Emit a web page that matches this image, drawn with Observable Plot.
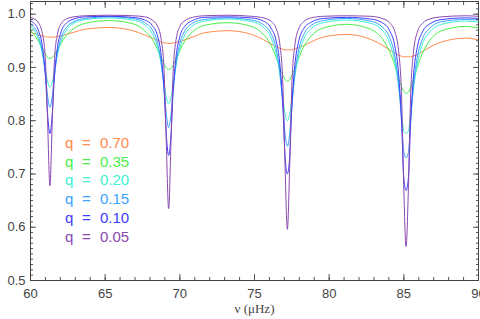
<!DOCTYPE html>
<html><head><meta charset="utf-8">
<script src="https://cdn.jsdelivr.net/npm/d3@7"></script>
<script src="https://cdn.jsdelivr.net/npm/@observablehq/plot@0.6"></script>
<style>
body{margin:0;background:#fff;}
#wrap{position:relative;width:480px;height:319px;}
#legend{position:absolute;left:65px;top:134px;font-family:"Liberation Sans",Arial,sans-serif;font-size:15px;line-height:18.7px;white-space:nowrap;}
#legend .q{display:inline-block;width:17px;}
#legend .eq{display:inline-block;width:18px;}
</style></head><body><div id="wrap"><div id="legend"></div></div>
<script>
// frequency grid (μHz)
const nu = [60.0, 60.2, 60.55, 60.8, 61.0, 61.14, 61.3, 61.46, 61.6, 61.8, 62.05, 62.4, 62.9, 63.7, 65.275,
  66.85, 67.65, 68.15, 68.5, 68.75, 68.95, 69.09, 69.25, 69.41, 69.55, 69.75, 70.0, 70.35, 70.85, 71.65, 73.225,
  74.8, 75.6, 76.1, 76.45, 76.7, 76.9, 77.04, 77.2, 77.36, 77.5, 77.7, 77.95, 78.3, 78.8, 79.6, 81.175,
  82.75, 83.55, 84.05, 84.4, 84.65, 84.85, 84.99, 85.15, 85.31, 85.45, 85.65, 85.9, 86.25, 86.75, 87.55, 89.125, 90.0];

const qLabels = ["0.70", "0.35", "0.20", "0.15", "0.10", "0.05"];

const q070 = [0.966, 0.964, 0.961, 0.959, 0.958, 0.957, 0.957, 0.957, 0.957, 0.958, 0.959, 0.962, 0.966, 0.972, 0.975,
  0.969, 0.961, 0.955, 0.951, 0.948, 0.946, 0.946, 0.945, 0.945, 0.946, 0.947, 0.948, 0.952, 0.957, 0.965, 0.969,
  0.962, 0.952, 0.944, 0.939, 0.936, 0.934, 0.933, 0.933, 0.933, 0.933, 0.935, 0.937, 0.941, 0.948, 0.957, 0.962,
  0.953, 0.942, 0.933, 0.927, 0.923, 0.921, 0.920, 0.920, 0.920, 0.920, 0.922, 0.924, 0.930, 0.938, 0.948, 0.955, 0.952];
const q035 = [0.969, 0.963, 0.948, 0.935, 0.925, 0.919, 0.917, 0.919, 0.923, 0.933, 0.945, 0.960, 0.973, 0.983, 0.988,
  0.982, 0.969, 0.953, 0.934, 0.918, 0.906, 0.899, 0.896, 0.898, 0.904, 0.916, 0.932, 0.950, 0.967, 0.979, 0.984,
  0.977, 0.962, 0.942, 0.919, 0.900, 0.885, 0.878, 0.874, 0.877, 0.884, 0.898, 0.917, 0.939, 0.959, 0.974, 0.981,
  0.972, 0.954, 0.930, 0.904, 0.881, 0.864, 0.855, 0.851, 0.854, 0.862, 0.878, 0.900, 0.927, 0.951, 0.969, 0.977, 0.974];
const q020 = [0.978, 0.972, 0.952, 0.925, 0.895, 0.874, 0.863, 0.873, 0.893, 0.923, 0.949, 0.970, 0.983, 0.990, 0.993,
  0.989, 0.980, 0.964, 0.939, 0.906, 0.869, 0.845, 0.832, 0.843, 0.867, 0.904, 0.936, 0.962, 0.978, 0.987, 0.991,
  0.986, 0.975, 0.956, 0.925, 0.886, 0.842, 0.814, 0.800, 0.813, 0.840, 0.883, 0.922, 0.953, 0.973, 0.984, 0.989,
  0.983, 0.970, 0.946, 0.910, 0.864, 0.815, 0.782, 0.776, 0.781, 0.812, 0.861, 0.907, 0.944, 0.967, 0.981, 0.987, 0.985];
const q015 = [0.983, 0.977, 0.958, 0.928, 0.885, 0.848, 0.825, 0.847, 0.883, 0.926, 0.956, 0.975, 0.986, 0.992, 0.995,
  0.992, 0.984, 0.971, 0.947, 0.909, 0.857, 0.814, 0.787, 0.812, 0.855, 0.907, 0.945, 0.969, 0.983, 0.990, 0.993,
  0.989, 0.980, 0.964, 0.935, 0.890, 0.828, 0.778, 0.752, 0.777, 0.826, 0.887, 0.932, 0.962, 0.979, 0.988, 0.992,
  0.987, 0.976, 0.956, 0.921, 0.869, 0.799, 0.743, 0.730, 0.741, 0.796, 0.866, 0.919, 0.954, 0.974, 0.986, 0.990, 0.989];
const q010 = [0.988, 0.984, 0.968, 0.939, 0.884, 0.815, 0.776, 0.814, 0.882, 0.937, 0.967, 0.983, 0.991, 0.995, 0.996,
  0.994, 0.989, 0.979, 0.960, 0.923, 0.856, 0.776, 0.735, 0.774, 0.854, 0.921, 0.958, 0.978, 0.988, 0.994, 0.995,
  0.993, 0.987, 0.974, 0.950, 0.906, 0.827, 0.736, 0.700, 0.734, 0.825, 0.904, 0.948, 0.973, 0.985, 0.992, 0.994,
  0.991, 0.984, 0.969, 0.940, 0.888, 0.797, 0.696, 0.669, 0.694, 0.794, 0.886, 0.938, 0.967, 0.982, 0.990, 0.993, 0.992];
const q005 = [0.994, 0.992, 0.983, 0.963, 0.913, 0.804, 0.678, 0.802, 0.911, 0.962, 0.982, 0.991, 0.995, 0.997, 0.998,
  0.997, 0.995, 0.989, 0.978, 0.953, 0.891, 0.763, 0.635, 0.761, 0.890, 0.952, 0.977, 0.988, 0.994, 0.997, 0.998,
  0.996, 0.993, 0.987, 0.973, 0.943, 0.868, 0.721, 0.596, 0.719, 0.866, 0.941, 0.972, 0.986, 0.993, 0.996, 0.997,
  0.996, 0.992, 0.984, 0.967, 0.931, 0.844, 0.680, 0.564, 0.678, 0.842, 0.930, 0.966, 0.983, 0.991, 0.995, 0.997, 0.996];

const xMajor = [60, 65, 70, 75, 80, 85, 90];
const yMajor = [0.5, 0.6, 0.7, 0.8, 0.9, 1.0];
const xTitle = "ν (μHz)";

// styles
const palette = ["#ff8a4c", "#48f048", "#3cf0d2", "#3aa2ff", "#3c3cff", "#8a48b0"];
const axisColor = "#444";

const seriesValues = [q070, q035, q020, q015, q010, q005];
const rows = [];
qLabels.forEach((q, k) => nu.forEach((x, i) => rows.push({nu: x, v: seriesValues[k][i], q})));

const xMinor = d3.range(60, 91, 1);
const yMinor = d3.range(50, 103, 1).map(d => d / 100);

const tickStyle = {stroke: "#555", fill: "none", label: null};

const chart = Plot.plot({
  width: 480, height: 319,
  marginLeft: 30, marginRight: 2, marginTop: 1, marginBottom: 39,
  style: {fontFamily: "'Liberation Sans', Arial, sans-serif", fontSize: "13px", background: "#fff", color: axisColor},
  x: {domain: [60, 90]},
  y: {domain: [0.5, 1.0238]},
  color: {domain: qLabels, range: palette},
  marks: [
    Plot.line(rows, {x: "nu", y: "v", z: "q", stroke: "q", strokeWidth: 1, curve: "monotone-x"}),
    Plot.axisX({anchor: "bottom", ticks: xMinor, tickSize: -3, ...tickStyle}),
    Plot.axisX({anchor: "bottom", ticks: xMajor, tickSize: -6, ...tickStyle}),
    Plot.axisX({anchor: "top", ticks: xMinor, tickSize: -3, ...tickStyle}),
    Plot.axisX({anchor: "top", ticks: xMajor, tickSize: -6, ...tickStyle}),
    Plot.axisY({anchor: "left", ticks: yMinor, tickSize: -3, ...tickStyle}),
    Plot.axisY({anchor: "left", ticks: yMajor, tickSize: -6, ...tickStyle}),
    Plot.axisY({anchor: "right", ticks: yMinor, tickSize: -3, ...tickStyle}),
    Plot.axisY({anchor: "right", ticks: yMajor, tickSize: -6, ...tickStyle}),
    Plot.axisX({anchor: "bottom", ticks: xMajor, tickSize: 0, tickPadding: 8, fill: axisColor, label: null}),
    Plot.axisY({anchor: "left", ticks: yMajor, tickSize: 0, tickPadding: 5, tickFormat: d3.format(".1f"), fill: axisColor, label: null}),
    Plot.frame({stroke: axisColor}),
    Plot.text([xTitle], {text: d => d, frameAnchor: "bottom", dy: 32, fontFamily: "'Liberation Serif', 'DejaVu Serif', serif", fontSize: 13, fill: axisColor})
  ]
});
const wrap = document.getElementById("wrap");
wrap.insertBefore(chart, wrap.firstChild);

const legend = document.getElementById("legend");
qLabels.forEach((q, k) => {
  const row = document.createElement("div");
  row.style.color = palette[k];
  row.innerHTML = `<span class="q">q</span><span class="eq">=</span><span>${q}</span>`;
  legend.appendChild(row);
});
</script>
</body></html>
